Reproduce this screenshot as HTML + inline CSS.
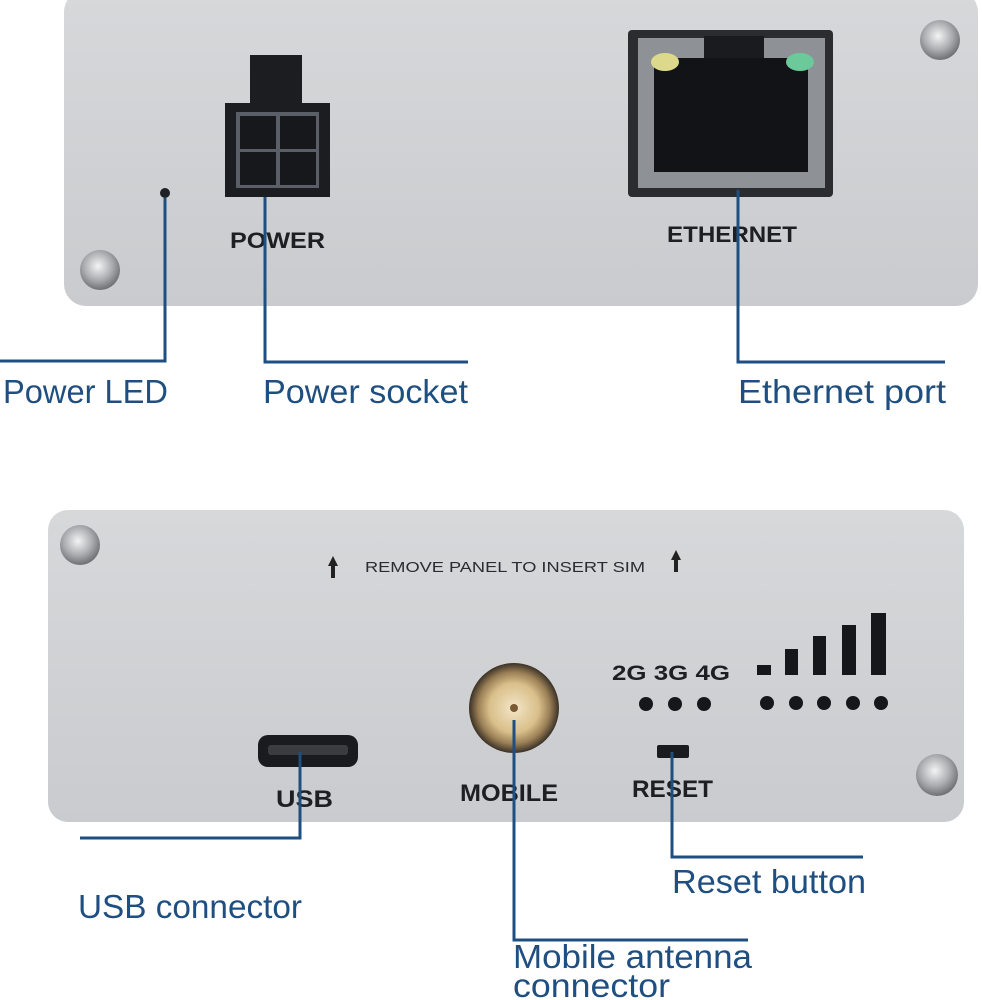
<!DOCTYPE html>
<html><head><meta charset="utf-8"><style>
html,body{margin:0;padding:0;background:#fff;}
svg{display:block;}
</style></head><body>
<svg width="982" height="1000" viewBox="0 0 982 1000" xmlns="http://www.w3.org/2000/svg" font-family="'Liberation Sans',sans-serif">
<defs>
<radialGradient id="scr" cx="45%" cy="40%" r="60%"><stop offset="0" stop-color="#f4f4f4"/><stop offset="0.6" stop-color="#a9abae"/><stop offset="1" stop-color="#6e7073"/></radialGradient>
<radialGradient id="ant" cx="50%" cy="50%" r="50%"><stop offset="0" stop-color="#f3e6c8"/><stop offset="0.55" stop-color="#d9bf8a"/><stop offset="0.8" stop-color="#9a7e55"/><stop offset="1" stop-color="#3a3127"/></radialGradient>
<linearGradient id="pan" x1="0" y1="0" x2="0" y2="1"><stop offset="0" stop-color="#d6d8da"/><stop offset="1" stop-color="#c9cbce"/></linearGradient>
</defs>
<rect x="64" y="-10" width="914" height="316" rx="22" fill="url(#pan)"/>
<circle cx="940" cy="40" r="20" fill="url(#scr)"/>
<circle cx="100" cy="270" r="20" fill="url(#scr)"/>
<circle cx="165" cy="193" r="5" fill="#1e2226"/>
<rect x="250" y="55" width="52" height="50" fill="#1c1d21"/>
<rect x="225" y="103" width="105" height="94" fill="#1c1d21"/>
<rect x="236" y="112" width="83" height="76" fill="#5a5e66"/>
<rect x="240" y="116" width="36" height="33" fill="#17181c"/>
<rect x="280" y="116" width="36" height="33" fill="#17181c"/>
<rect x="240" y="152" width="36" height="33" fill="#17181c"/>
<rect x="280" y="152" width="36" height="33" fill="#17181c"/>
<text x="230" y="248" font-size="22" font-weight="bold" fill="#1d1f22" textLength="95" lengthAdjust="spacingAndGlyphs">POWER</text>
<rect x="628" y="30" width="205" height="167" rx="4" fill="#2a2c30"/>
<rect x="638" y="38" width="187" height="150" fill="#8e9195"/>
<rect x="654" y="58" width="154" height="114" fill="#121316"/>
<rect x="704" y="36" width="60" height="22" fill="#1a1b1e"/>
<ellipse cx="665" cy="62" rx="14" ry="9" fill="#dcd98c"/>
<ellipse cx="800" cy="62" rx="14" ry="9" fill="#6cc99a"/>
<text x="667" y="242" font-size="22" font-weight="bold" fill="#1d1f22" textLength="130" lengthAdjust="spacingAndGlyphs">ETHERNET</text>
<g stroke="#1f4f80" stroke-width="3" fill="none">
<polyline points="165,198 165,361 0,361"/>
<polyline points="265,197 265,362 468,362"/>
<polyline points="738,190 738,362 945,362"/>
</g>
<g font-size="33" fill="#1f4f80" lengthAdjust="spacingAndGlyphs">
<text x="3" y="403" textLength="165" lengthAdjust="spacingAndGlyphs">Power LED</text>
<text x="263" y="403" textLength="205" lengthAdjust="spacingAndGlyphs">Power socket</text>
<text x="738" y="403" textLength="208" lengthAdjust="spacingAndGlyphs">Ethernet port</text>
</g>
<rect x="48" y="510" width="916" height="312" rx="20" fill="url(#pan)"/>
<circle cx="80" cy="545" r="20" fill="url(#scr)"/>
<circle cx="937" cy="775" r="21" fill="url(#scr)"/>
<path d="M333 556 L328 566 L331 566 L331 578 L335 578 L335 566 L338 566 Z" fill="#222"/>
<path d="M676 550 L671 560 L674 560 L674 572 L678 572 L678 560 L681 560 Z" fill="#222"/>
<text x="365" y="572" font-size="15" fill="#2a2c2f" textLength="280" lengthAdjust="spacingAndGlyphs">REMOVE PANEL TO INSERT SIM</text>
<circle cx="514" cy="708" r="45" fill="url(#ant)"/>
<circle cx="514" cy="708" r="4" fill="#7a5a35"/>
<rect x="258" y="735" width="100" height="32" rx="10" fill="#1a1b1e"/>
<rect x="268" y="745" width="80" height="10" rx="3" fill="#3a3c40"/>
<rect x="657" y="745" width="32" height="13" rx="2" fill="#1a1b1e"/>
<g font-size="24" font-weight="bold" fill="#1d1f22">
<text x="276" y="807" textLength="57" lengthAdjust="spacingAndGlyphs">USB</text>
<text x="460" y="801" textLength="98" lengthAdjust="spacingAndGlyphs">MOBILE</text>
<text x="632" y="797" textLength="81" lengthAdjust="spacingAndGlyphs">RESET</text>
</g>
<text x="612" y="680" font-size="21" font-weight="bold" fill="#1d1f22" textLength="118" lengthAdjust="spacingAndGlyphs">2G 3G 4G</text>
<g fill="#16171a">
<circle cx="646" cy="704" r="7"/><circle cx="675" cy="704" r="7"/><circle cx="704" cy="704" r="7"/>
<circle cx="767" cy="703" r="7"/><circle cx="796" cy="703" r="7"/><circle cx="824" cy="703" r="7"/><circle cx="853" cy="703" r="7"/><circle cx="881" cy="703" r="7"/>
<rect x="757" y="665" width="14" height="10"/>
<rect x="785" y="649" width="13" height="26"/>
<rect x="813" y="636" width="13" height="39"/>
<rect x="842" y="625" width="14" height="50"/>
<rect x="871" y="613" width="15" height="62"/>
</g>
<g stroke="#1f4f80" stroke-width="3" fill="none">
<polyline points="300,752 300,838 80,838"/>
<polyline points="514,720 514,940 748,940"/>
<polyline points="672,752 672,857 863,857"/>
</g>
<g font-size="33" fill="#1f4f80">
<text x="78" y="918" textLength="224" lengthAdjust="spacingAndGlyphs">USB connector</text>
<text x="672" y="893" textLength="194" lengthAdjust="spacingAndGlyphs">Reset button</text>
<text x="513" y="968" textLength="239" lengthAdjust="spacingAndGlyphs">Mobile antenna</text>
<text x="513" y="997" textLength="157" lengthAdjust="spacingAndGlyphs">connector</text>
</g>
</svg>
</body></html>
